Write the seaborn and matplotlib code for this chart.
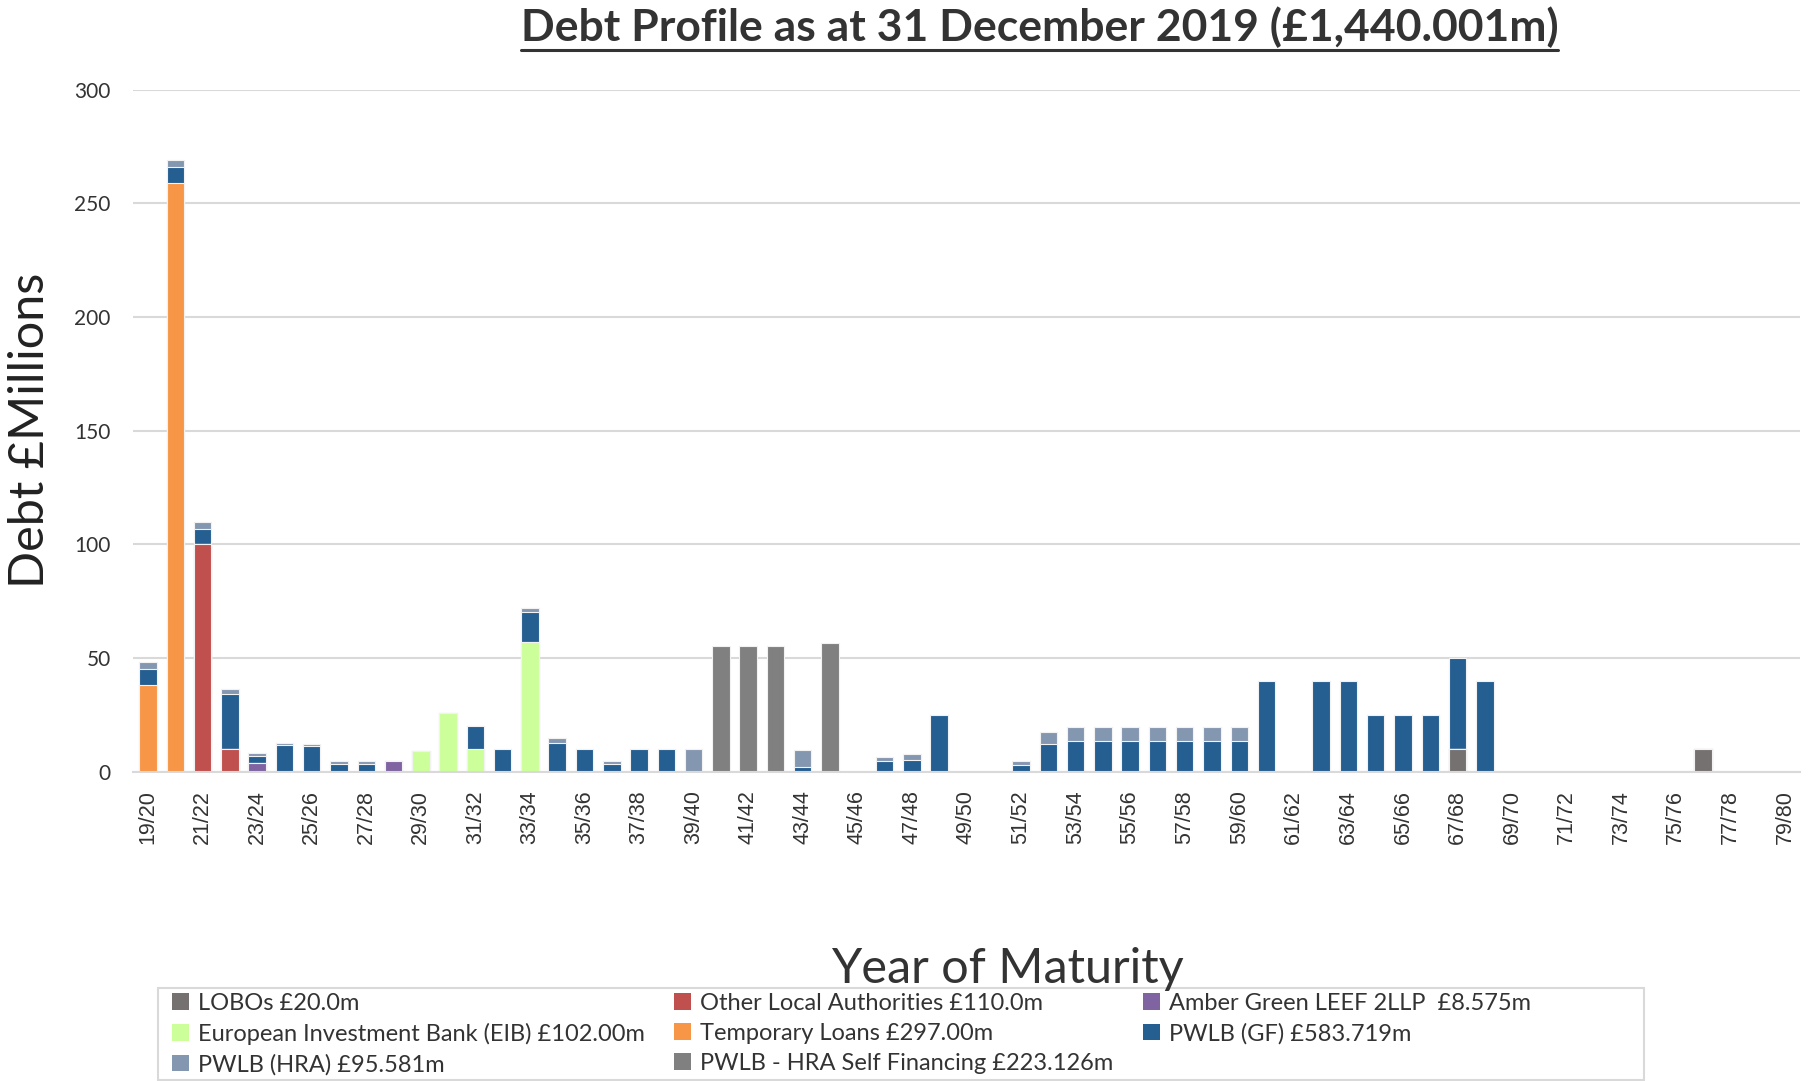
import numpy as np
import pandas as pd
import matplotlib
matplotlib.use("Agg")
import matplotlib.pyplot as plt
from matplotlib.patches import Patch, Rectangle
from matplotlib.lines import Line2D
import seaborn as sns

# ---------------- data ----------------
years = [f"{y}/{y+1}" for y in range(19, 80)]  # 19/20 ... 79/80
n = len(years)

def series(d):
    v = [0.0] * n
    for k, val in d.items():
        v[k] = val
    return v

lobos = series({48: 10, 57: 10})
other_la = series({2: 100, 3: 10})
amber = series({4: 3.675, 9: 4.9})
eib = series({10: 9, 11: 26, 12: 10, 14: 57})
temp_loans = series({0: 38, 1: 259})
pwlb_gf = series({0: 7.4, 1: 6.8, 2: 6.6, 3: 24.2, 4: 3.1, 5: 11.9, 6: 11.3, 7: 3.3, 8: 3.3,
                  12: 10, 13: 10, 14: 13.1, 15: 12.9, 16: 10, 17: 3.3, 18: 10, 19: 10,
                  24: 2.2, 27: 4.6, 28: 5.0, 29: 25, 32: 3.1, 33: 12.1,
                  34: 13.4, 35: 13.4, 36: 13.4, 37: 13.4, 38: 13.4, 39: 13.4, 40: 13.4,
                  41: 40, 43: 40, 44: 40, 45: 25, 46: 25, 47: 25, 48: 40, 49: 40})
pwlb_hra = series({0: 3.1, 1: 3.1, 2: 3.2, 3: 2.1, 4: 1.6, 5: 1.0, 6: 0.8, 7: 1.6, 8: 1.6,
                   14: 1.8, 15: 2.1, 17: 1.6, 20: 10, 24: 7.5, 27: 2.0, 28: 2.8, 32: 1.6,
                   33: 5.6, 34: 6.5, 35: 6.5, 36: 6.5, 37: 6.5, 38: 6.5, 39: 6.5, 40: 6.5})
hra_self = series({21: 55.5, 22: 55.5, 23: 55.5, 25: 56.6})

labels = ["LOBOs £20.0m", "Other Local Authorities £110.0m", "Amber Green LEEF 2LLP  £8.575m",
          "European Investment Bank (EIB) £102.00m", "Temporary Loans £297.00m", "PWLB (GF) £583.719m",
          "PWLB (HRA) £95.581m", "PWLB - HRA Self Financing £223.126m"]
colors = ["#767171", "#C0504D", "#8064A2", "#CCFF99", "#F79646", "#255E91", "#8497B0", "#808080"]
stack = [lobos, other_la, amber, eib, temp_loans, pwlb_gf, pwlb_hra, hra_self]

title = " Debt Profile as at 31 December 2019 (£1,440.001m)"
ylabel = "Debt £Millions"
xlabel = "Year of Maturity"

# ---------------- plot ----------------
sns.set_theme(style="white")
plt.rcParams['font.family'] = ['Lato', 'DejaVu Sans']

fig = plt.figure(figsize=(18.09, 10.81), dpi=100)
ax = fig.add_axes([0.0735, 0.286, 0.9215, 0.631])

df = pd.DataFrame({"year": years})
cum = np.zeros(n)
cums = []
for s in stack:
    cum = cum + np.array(s)
    cums.append(cum.copy())

# draw from top of stack down so lower segments overlay
for i in range(len(stack) - 1, -1, -1):
    d = df.copy()
    d["val"] = cums[i]
    sns.barplot(data=d, x="year", y="val", color=colors[i], saturation=1, width=0.64,
                edgecolor="#F2F2F2", linewidth=0.8, ax=ax, order=years, errorbar=None)

ax.set_ylim(0, 300)
ax.set_xlim(-0.55, n - 0.45)
ax.set_yticks([0, 50, 100, 150, 200, 250, 300])
ax.yaxis.grid(True, color="#D9D9D9", linewidth=1.5)
ax.set_axisbelow(True)
for sp in ["top", "right", "left"]:
    ax.spines[sp].set_visible(False)
ax.spines["bottom"].set_color("#D9D9D9")
ax.spines["bottom"].set_linewidth(1.5)

ax.set_xticks(range(0, n, 2))
ax.set_xticklabels([years[i] for i in range(0, n, 2)], rotation=90, fontsize=15.5,
                   color="#333333", family=['Liberation Sans', 'DejaVu Sans'])
ax.tick_params(axis="y", labelsize=15, labelcolor="#333333", length=0, pad=16)
ax.tick_params(axis="x", length=0, pad=13)
ax.set_xlabel("")
ax.set_ylabel(ylabel, fontsize=35, color="#222222", labelpad=16)

fig.text(0.557, 0.1036, xlabel, ha="center", va="center", fontsize=35, color="#333333")

t = fig.text(0.5716, 0.975, title, ha="center", va="center", fontsize=32, fontweight="bold",
             color="#333333")

# legend frame
fig.add_artist(Rectangle((158 / 1809, 1 - 1080 / 1081), (1644 - 158) / 1809, 92 / 1081,
                         transform=fig.transFigure, facecolor="white", edgecolor="#D9D9D9",
                         linewidth=1.5, zorder=0.5))

order = [0, 3, 6, 1, 4, 7, 2, 5]
handles = [Patch(facecolor=colors[k], edgecolor="none") for k in order]
leg_labels = [labels[k] for k in order]
leg = fig.legend(handles, leg_labels, ncol=3, loc="center left",
                 bbox_to_anchor=(172 / 1809, 1 - 1034 / 1081),
                 bbox_transform=fig.transFigure,
                 fontsize=17, frameon=False, handlelength=0.7, handleheight=0.7,
                 handletextpad=0.4, columnspacing=1.25, labelspacing=0.38, borderpad=0.0,
                 borderaxespad=0.0)
for txt in leg.get_texts():
    txt.set_color("#333333")

# underline title
fig.canvas.draw()
bb = t.get_window_extent()
inv = fig.transFigure.inverted()
(x0, y0), (x1, y1) = inv.transform([[bb.x0, bb.y0], [bb.x1, bb.y1]])
fig.add_artist(Line2D([x0 + 0.006, x1], [y0 - 0.002, y0 - 0.002], color="#333333",
                      linewidth=2.2, transform=fig.transFigure))

fig.savefig("out.png", dpi=100)
